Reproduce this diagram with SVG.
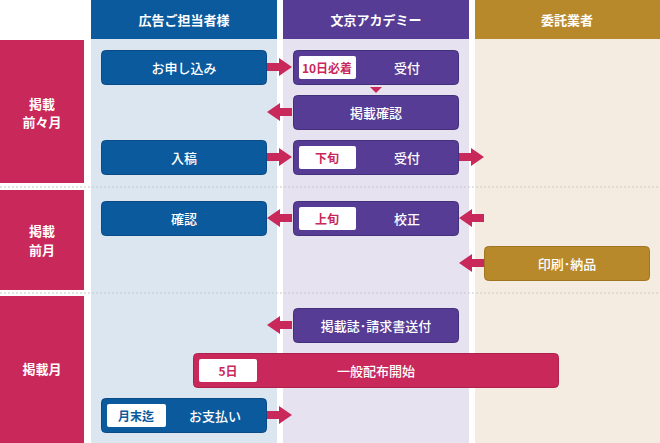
<svg xmlns="http://www.w3.org/2000/svg" width="660" height="443" viewBox="0 0 660 443">
<defs>
<style>
text{font-family:"Noto Sans CJK JP","Noto Sans",sans-serif;font-weight:bold;font-size:13px;text-anchor:middle;dominant-baseline:central}
.w{fill:#fff}
.n{font-weight:500}
.bl{fill:#0b5a9e;stroke:#0a4a85;stroke-width:1}
.pu{fill:#563c94;stroke:#43307a;stroke-width:1}
.go{fill:#b8892b;stroke:#a07522}
.cr{fill:#c9285a;stroke:#b0204d}
.tag{fill:#fff}
.tt{fill:#c9285a;font-size:12px}
.ar{fill:#c9285a}
</style>
<g id="arrowR"><path d="M0,-4 H12 V-9 L25,0 L12,9 V4 H0 Z"/></g>
<g id="arrowL"><path d="M25,-4 H13 V-9 L0,0 L13,9 V4 H25 Z"/></g>
</defs>
<rect width="660" height="443" fill="#fff"/>
<g id="columns">
<rect x="91" y="0" width="186" height="39" fill="#0b5a9e"/>
<rect x="283" y="0" width="186" height="39" fill="#563c94"/>
<rect x="475" y="0" width="185" height="39" fill="#b8892b"/>
<rect x="91" y="39" width="186" height="404" fill="#dbe6f1"/>
<rect x="283" y="39" width="186" height="404" fill="#e6e2ef"/>
<rect x="475" y="39" width="185" height="404" fill="#f4ece0"/>
<text x="184" y="19" class="w">広告ご担当者様</text>
<text x="376" y="19" class="w">文京アカデミー</text>
<text x="567" y="19" class="w">委託業者</text>
</g>
<g id="rows">
<rect x="0" y="40" width="84" height="143" fill="#c9285a"/>
<rect x="0" y="190" width="84" height="100" fill="#c9285a"/>
<rect x="0" y="296" width="84" height="147" fill="#c9285a"/>
<text x="42" y="103" class="w">掲載</text><text x="42" y="121" class="w">前々月</text>
<text x="42" y="230" class="w">掲載</text><text x="42" y="249" class="w">前月</text>
<text x="42" y="368" class="w">掲載月</text>
<line x1="0" y1="187" x2="660" y2="187" stroke="#c8c8c8" stroke-dasharray="2,2"/>
<line x1="0" y1="293" x2="660" y2="293" stroke="#c8c8c8" stroke-dasharray="2,2"/>
</g>
<g id="connectors" class="ar">
<use href="#arrowR" x="267" y="67"/>
<use href="#arrowL" x="267" y="112"/>
<use href="#arrowR" x="267" y="157"/>
<use href="#arrowR" x="459" y="157"/>
<use href="#arrowL" x="267" y="218"/>
<use href="#arrowL" x="459" y="218"/>
<use href="#arrowL" x="459" y="263"/>
<use href="#arrowL" x="267" y="325"/>
<use href="#arrowR" x="267" y="415"/>
<path d="M370,87 H382 L376,93 Z"/>
</g>
<g id="n1"><rect class="bl" x="101.5" y="50.5" width="165" height="34" rx="4"/><text x="184" y="67" class="w n">お申し込み</text></g>
<g id="n2"><rect class="pu" x="293.5" y="50.5" width="165" height="34" rx="4"/><rect class="tag" x="299" y="56" width="57" height="23" rx="2"/><text x="327" y="67" class="tt">10日必着</text><text x="407" y="67" class="w n">受付</text></g>
<g id="n3"><rect class="pu" x="293.5" y="95.5" width="165" height="34" rx="4"/><text x="376" y="112" class="w n">掲載確認</text></g>
<g id="n4"><rect class="bl" x="101.5" y="140.5" width="165" height="34" rx="4"/><text x="184" y="157" class="w n">入稿</text></g>
<g id="n5"><rect class="pu" x="293.5" y="140.5" width="165" height="34" rx="4"/><rect class="tag" x="299" y="146" width="57" height="23" rx="2"/><text x="327" y="157" class="tt">下旬</text><text x="407" y="157" class="w n">受付</text></g>
<g id="n6"><rect class="bl" x="101.5" y="201.5" width="165" height="34" rx="4"/><text x="184" y="218" class="w n">確認</text></g>
<g id="n7"><rect class="pu" x="293.5" y="201.5" width="165" height="34" rx="4"/><rect class="tag" x="299" y="207" width="57" height="23" rx="2"/><text x="327" y="218" class="tt">上旬</text><text x="407" y="218" class="w n">校正</text></g>
<g id="n8"><rect class="go" x="484.5" y="246.5" width="165" height="34" rx="4"/><text x="567" y="263" class="w n">印刷･納品</text></g>
<g id="n9"><rect class="pu" x="293.5" y="308.5" width="165" height="34" rx="4"/><text x="376" y="325" class="w n">掲載誌･請求書送付</text></g>
<g id="n10"><rect class="cr" x="193.5" y="353.5" width="365" height="34" rx="4"/><rect class="tag" x="199" y="359" width="58" height="23" rx="2"/><text x="228" y="370" class="tt">5日</text><text x="376" y="370" class="w n">一般配布開始</text></g>
<g id="n11"><rect class="bl" x="101.5" y="398.5" width="165" height="34" rx="4"/><rect class="tag" x="107" y="404" width="59" height="23" rx="2"/><text x="136" y="415" class="tt" style="fill:#0b5a9e">月末迄</text><text x="215" y="415" class="w n">お支払い</text></g>
</svg>
